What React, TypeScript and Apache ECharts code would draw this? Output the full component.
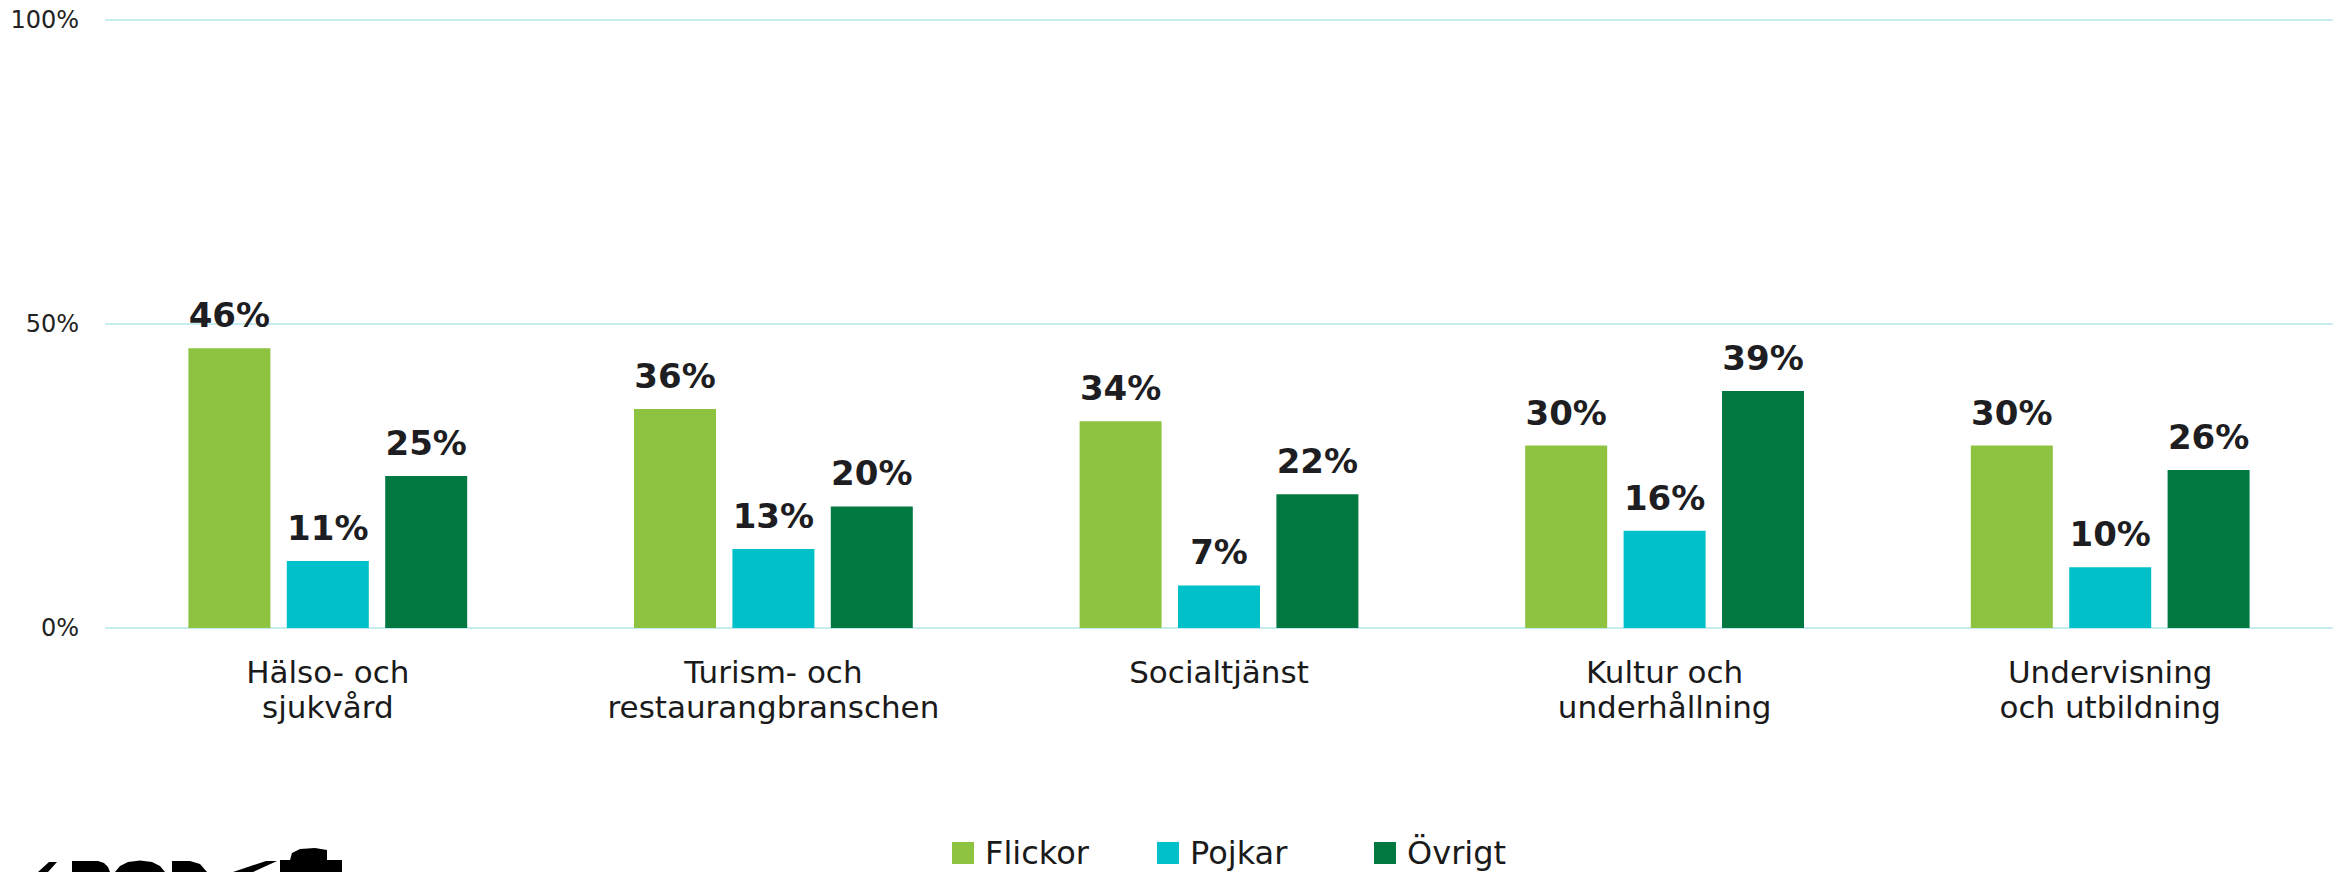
import React, { useEffect, useRef } from "react";
import * as echarts from "echarts";

const categories = [
  "Hälso- och\nsjukvård",
  "Turism- och\nrestaurangbranschen",
  "Socialtjänst",
  "Kultur och\nunderhållning",
  "Undervisning\noch utbildning",
];
const flickor = [46, 36, 34, 30, 30];
const pojkar = [11, 13, 7, 16, 10];
const ovrigt = [25, 20, 22, 39, 26];
const seriesNames = ["Flickor", "Pojkar", "Övrigt"];
const yTicks = { min: 0, max: 100, interval: 50 };

const COLORS = ["#8DC340", "#00C1C9", "#007840"];
const FONT = "DejaVu Sans";

export default function App() {
  const ref = useRef<HTMLDivElement>(null);
  useEffect(() => {
    if (!ref.current) return;
    const chart = echarts.init(ref.current, undefined, { renderer: "svg" });
    const values = [flickor, pojkar, ovrigt];
    const legendLefts = [952, 1157, 1374];
    chart.setOption({
      animation: false,
      backgroundColor: "#ffffff",
      grid: { left: 105, right: 8, top: 20, bottom: 244, containLabel: false },
      legend: seriesNames.map((n, i) => ({
        data: [n],
        left: legendLefts[i],
        top: 837,
        padding: 0,
        icon: "rect",
        itemWidth: 22,
        itemHeight: 22,
        selectedMode: false,
        textStyle: {
          fontFamily: FONT,
          fontSize: 32,
          color: "#1a1a1a",
          padding: [0, 0, 0, 6],
        },
      })),
      xAxis: {
        type: "category",
        data: categories,
        axisLine: { show: false },
        axisTick: { show: false },
        axisLabel: {
          interval: 0,
          margin: 26,
          fontFamily: FONT,
          fontSize: 31,
          lineHeight: 35,
          color: "#1a1a1a",
        },
      },
      yAxis: {
        type: "value",
        min: yTicks.min,
        max: yTicks.max,
        interval: yTicks.interval,
        axisLine: { show: false },
        axisTick: { show: false },
        axisLabel: {
          formatter: "{value}%",
          margin: 26,
          fontFamily: FONT,
          fontSize: 24,
          color: "#222222",
        },
        splitLine: { lineStyle: { color: "#c5ecef", width: 2 } },
      },
      series: seriesNames.map((n, i) => ({
        name: n,
        type: "bar",
        data: values[i],
        barWidth: 82,
        barGap: "20%",
        itemStyle: { color: COLORS[i] },
        label: {
          show: true,
          position: "top",
          distance: 16,
          formatter: "{c}%",
          fontFamily: FONT,
          fontWeight: "bold",
          fontSize: 34,
          color: "#1d1d22",
        },
      })),
      graphic: [
        {
          type: "group",
          silent: true,
          children: [
            { type: "polygon", shape: { points: [[38, 872], [49, 862], [57, 862], [48, 872]] }, style: { fill: "#000" } },
            { type: "polygon", shape: { points: [[72, 872], [72, 861], [98, 861], [104, 863], [108, 867], [110, 872]] }, style: { fill: "#000" } },
            { type: "polygon", shape: { points: [[115, 872], [120, 866], [128, 862], [140, 860.5], [152, 862], [160, 866], [165, 872]] }, style: { fill: "#000" } },
            { type: "polygon", shape: { points: [[172, 872], [172, 861], [190, 861], [200, 864], [207, 872]] }, style: { fill: "#000" } },
            { type: "polygon", shape: { points: [[233, 872], [266, 861], [277, 861], [253, 872]] }, style: { fill: "#000" } },
            { type: "rect", shape: { x: 280, y: 860, width: 62, height: 12 }, style: { fill: "#000" } },
            { type: "polygon", shape: { points: [[290, 860], [292, 853], [300, 849], [315, 848], [327, 850], [327, 860]] }, style: { fill: "#000" } },
          ],
        },
      ],
    });
    return () => chart.dispose();
  }, []);
  return (
    <div
      ref={ref}
      style={{ position: "fixed", left: 0, top: 0, width: 2341, height: 872, background: "#fff" }}
    />
  );
}
